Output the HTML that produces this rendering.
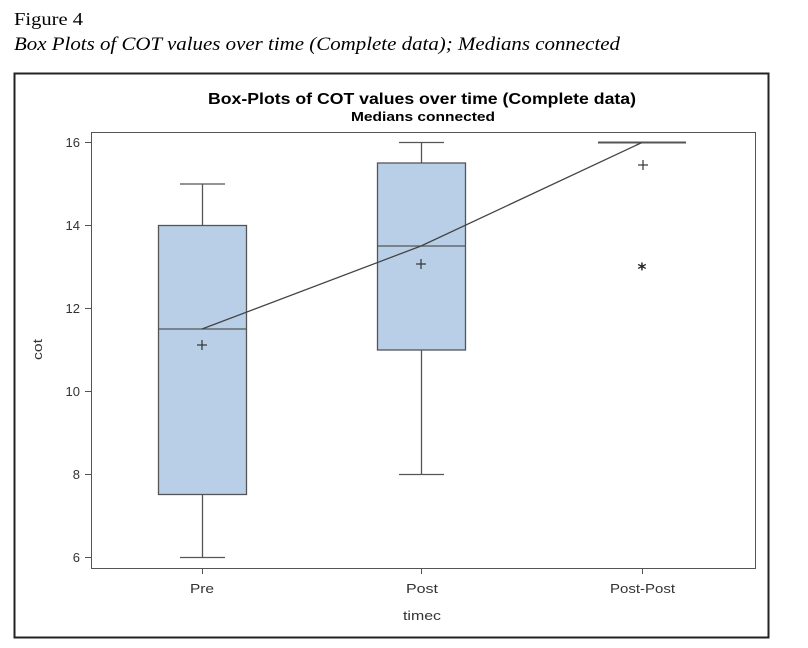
<!DOCTYPE html>
<html><head><meta charset="utf-8"><style>
body{margin:0;background:#fff;width:808px;height:648px;overflow:hidden}
</style></head><body>
<svg width="808" height="648" xmlns="http://www.w3.org/2000/svg" style="position:absolute;left:0;top:0">
<text x="14" y="25" font-family="Liberation Serif, serif" font-size="18" fill="#000" textLength="69" lengthAdjust="spacingAndGlyphs">Figure 4</text>
<text x="14" y="50" font-family="Liberation Serif, serif" font-size="19" font-style="italic" fill="#000" textLength="606" lengthAdjust="spacingAndGlyphs">Box Plots of COT values over time (Complete data); Medians connected</text>
<rect x="14.5" y="73.5" width="754" height="564" fill="none" stroke="#222" stroke-width="2"/>
<text x="208" y="104" font-family="Liberation Sans, sans-serif" font-size="16" font-weight="bold" textLength="428" lengthAdjust="spacingAndGlyphs">Box-Plots of COT values over time (Complete data)</text>
<text x="351" y="121" font-family="Liberation Sans, sans-serif" font-size="13" font-weight="bold" textLength="144" lengthAdjust="spacingAndGlyphs">Medians connected</text>
<rect x="91.5" y="132.5" width="664" height="436" fill="none" stroke="#555" stroke-width="1"/>
<g stroke="#555" stroke-width="1">
<line x1="85" y1="142.5" x2="91" y2="142.5"/><line x1="85" y1="225.5" x2="91" y2="225.5"/>
<line x1="85" y1="308.5" x2="91" y2="308.5"/><line x1="85" y1="391.5" x2="91" y2="391.5"/>
<line x1="85" y1="474.5" x2="91" y2="474.5"/><line x1="85" y1="557.5" x2="91" y2="557.5"/>
<line x1="202.5" y1="569" x2="202.5" y2="574"/><line x1="421.5" y1="569" x2="421.5" y2="574"/><line x1="642.5" y1="569" x2="642.5" y2="574"/>
</g>
<g font-family="Liberation Sans, sans-serif" font-size="13" fill="#333" text-anchor="end">
<text x="80" y="147">16</text><text x="80" y="230">14</text><text x="80" y="313">12</text>
<text x="80" y="396">10</text><text x="80" y="479">8</text><text x="80" y="562">6</text>
</g>
<g font-family="Liberation Sans, sans-serif" font-size="13" fill="#333">
<text x="190" y="593" textLength="24" lengthAdjust="spacingAndGlyphs">Pre</text>
<text x="406" y="593" textLength="32" lengthAdjust="spacingAndGlyphs">Post</text>
<text x="610" y="593" textLength="65" lengthAdjust="spacingAndGlyphs">Post-Post</text>
<text x="403" y="620" textLength="38" lengthAdjust="spacingAndGlyphs">timec</text>
<text transform="translate(42,360) rotate(-90)" textLength="21" lengthAdjust="spacingAndGlyphs">cot</text>
</g>
<g stroke="#555" stroke-width="1.3" fill="#b9cfe7">
<line x1="202.5" y1="557.5" x2="202.5" y2="184"/>
<line x1="180" y1="184" x2="225" y2="184"/><line x1="180" y1="557.5" x2="225" y2="557.5"/>
<rect x="158.5" y="225.5" width="88" height="269"/>
<line x1="158.5" y1="329" x2="246.5" y2="329"/>
<line x1="421.5" y1="474.5" x2="421.5" y2="142.5"/>
<line x1="399" y1="142.5" x2="444" y2="142.5"/><line x1="399" y1="474.5" x2="444" y2="474.5"/>
<rect x="377.5" y="163" width="88" height="187"/>
<line x1="377.5" y1="246" x2="465.5" y2="246"/>
<line x1="598" y1="142.5" x2="686" y2="142.5" stroke-width="2"/>
<polyline points="202,329 421,246 642,142.5" fill="none" stroke="#444"/>
</g>
<g stroke="#333" stroke-width="1.2">
<line x1="197" y1="345" x2="207" y2="345"/><line x1="202" y1="340" x2="202" y2="350"/>
<line x1="416" y1="264" x2="426" y2="264"/><line x1="421" y1="259" x2="421" y2="269"/>
<line x1="638" y1="165" x2="648" y2="165"/><line x1="643" y1="160" x2="643" y2="170"/>
</g>
<text x="642" y="275" text-anchor="middle" font-family="DejaVu Sans, sans-serif" font-size="17" font-weight="bold" fill="#222">*</text>
</svg>
</body></html>
